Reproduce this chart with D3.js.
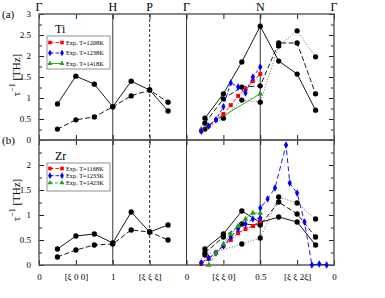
<!DOCTYPE html>
<html>
<head>
<meta charset="utf-8">
<script src="https://cdn.jsdelivr.net/npm/d3@7"></script>
<style>
body { margin: 0; background: #fff; }
svg { font-family: "Liberation Serif", "DejaVu Serif", serif; }
</style>
</head>
<body>
<svg id="chart" width="385" height="298"></svg>
<script>
// high symmetry points along the path (path coordinate: each branch = 1)
var pointLabels = ["Γ", "H", "P", "Γ", "N", "Γ"];
var pointPos = [0, 1, 1.5, 2, 3, 4];
var tickPos = [0, 0.5, 1, 1.5, 2, 2.5, 3, 3.5, 4];
var tickLabels = ["0", "[ξ 0 0]", "1", "[ξ ξ ξ]", "0", "[ξ ξ 0]", "0.5", "[ξ ξ 2ξ]", "0"];

// calculated points (black), path coordinate
var calcLeft = [0.25, 0.5, 0.75, 1, 1.25, 1.5, 1.75];
var calcRight = [2.25, 2.5, 2.75, 3, 3.25, 3.5, 3.75];

// Ti (a)
var tiSolidL = [0.86, 1.52, 1.33, 0.79, 1.40, 1.19, 0.69];
var tiDashL = [0.26, 0.48, 0.55, 0.79, 1.05, 1.19, 0.90];
var tiSolidR = [0.52, 1.10, 1.86, 2.71, 1.88, 1.57, 0.71];
var tiDashR = [0.40, 0.98, 1.26, 1.29, 2.31, 2.31, 1.10];
var tiDotR = [0.26, 0.52, 0.95, 0.90, 2.24, 2.60, 1.98];

// Ti experiments, xi along [xi xi 0]
var tiXi1208 = [0.1, 0.15, 0.2, 0.25, 0.3, 0.35, 0.4, 0.45, 0.5];
var ti1208 = [0.21, 0.33, 0.48, 0.62, 0.83, 1.05, 1.21, 1.40, 1.57];
var tiXi1238 = [0.1, 0.15, 0.2, 0.25, 0.3, 0.35, 0.4, 0.45, 0.5];
var ti1238 = [0.21, 0.33, 0.48, 0.79, 1.36, 1.26, 1.12, 1.50, 1.74];
var tiXi1418 = [0.1, 0.5];
var ti1418 = [0.26, 1.10];

// Zr (b)
var zrSolidL = [0.32, 0.58, 0.62, 0.44, 1.06, 0.66, 0.80];
var zrDashL = [0.16, 0.30, 0.40, 0.42, 0.70, 0.66, 0.50];
var zrSolidR = [0.32, 0.62, 1.08, 0.85, 0.96, 0.86, 0.40];
var zrDashR = [0.24, 0.56, 0.82, 0.80, 1.26, 1.02, 0.56];
var zrDotPos = [2.25, 2.75, 3, 3.25, 3.5, 3.75];
var zrDotR = [0.20, 0.42, 0.54, 1.36, 1.24, 0.92];

// Zr experiments
var zrXi1168 = [0.1, 0.15, 0.2, 0.25, 0.3, 0.35, 0.4, 0.45, 0.5];
var zr1168 = [0.02, 0.12, 0.25, 0.38, 0.50, 0.64, 0.72, 0.78, 0.88];
var zrXi1233a = [0.1, 0.15, 0.2, 0.25, 0.3, 0.35, 0.4, 0.45, 0.5];
var zr1233a = [0.05, 0.14, 0.24, 0.38, 0.56, 0.72, 0.82, 0.92, 0.94];
var zrXi1233b = [0.5, 0.45, 0.4, 0.325, 0.3, 0.25, 0.2, 0.15, 0.1, 0.05];  // along N -> Γ
var zr1233b = [1.14, 1.32, 1.54, 2.40, 1.64, 1.44, 0.86, 0.0, 0.02, 0.0];
var zrXi1423 = [0.15, 0.2, 0.25, 0.3, 0.35, 0.4, 0.45, 0.5];
var zr1423 = [0.0, 0.24, 0.42, 0.62, 0.78, 0.92, 1.04, 1.04];

var tiLegend = ["Exp. T=1208K", "Exp. T=1238K", "Exp. T=1418K"];
var zrLegend = ["Exp. T=1168K", "Exp. T=1233K", "Exp. T=1423K"];

function gammaN(xi) { return 2 + 2 * xi; }
function nGamma(xi) { return 4 - 2 * xi; }
function pts(xs, ys) { return xs.map(function (x, i) { return { s: x, v: ys[i] }; }); }

var svg = d3.select("#chart");
var left = 39, right = 334;
var x = d3.scaleLinear().domain([0, 4]).range([left, right]);

var panels = [
    { y: d3.scaleLinear().domain([0, 3]).range([140, 14]), label: "(a)", name: "Ti",
      yTicks: [0, 0.5, 1, 1.5, 2, 2.5, 3], legend: tiLegend, legTop: 36, legStep: 10.5, legH: 33, titleY: 75 },
    { y: d3.scaleLinear().domain([0, 2.5]).range([265, 140]), label: "(b)", name: "Zr",
      yTicks: [0, 0.5, 1, 1.5, 2], legend: zrLegend, legTop: 163, legStep: 7.2, legH: 28, titleY: 200 }
];

var styles = {
    solid: { c: "#000", mc: "#000", dash: null, m: d3.symbolCircle, size: 22 },
    dash: { c: "#000", mc: "#000", dash: "5,2.5", m: d3.symbolCircle, size: 22 },
    dot: { c: "#555", mc: "#000", dash: "1,1.8", m: d3.symbolCircle, size: 22 },
    red: { c: "#ff0000", mc: "#ff0000", dash: "3.5,2", m: d3.symbolSquare, size: 16 },
    blue: { c: "#0000ff", mc: "#0000ff", dash: "3.5,2", m: d3.symbolDiamond, size: 16 },
    blue2: { c: "#0000ff", mc: "#0000ff", dash: "5,3", m: d3.symbolDiamond, size: 16 },
    green: { c: "#1f9e1f", mc: "#1f9e1f", dash: null, m: d3.symbolTriangle, size: 14 },
    green2: { c: "#1f9e1f", mc: "#1f9e1f", dash: "3,2", m: d3.symbolTriangle, size: 14 }
};

var series = [
    { p: 0, st: "solid", d: pts(calcLeft, tiSolidL) },
    { p: 0, st: "dash", d: pts(calcLeft, tiDashL) },
    { p: 0, st: "dot", d: pts(calcRight, tiDotR) },
    { p: 0, st: "dash", d: pts(calcRight, tiDashR) },
    { p: 0, st: "solid", d: pts(calcRight, tiSolidR) },
    { p: 0, st: "green", d: pts(tiXi1418.map(gammaN), ti1418) },
    { p: 0, st: "red", d: pts(tiXi1208.map(gammaN), ti1208) },
    { p: 0, st: "blue", d: pts(tiXi1238.map(gammaN), ti1238) },
    { p: 1, st: "solid", d: pts(calcLeft, zrSolidL) },
    { p: 1, st: "dash", d: pts(calcLeft, zrDashL) },
    { p: 1, st: "dot", d: pts(zrDotPos, zrDotR) },
    { p: 1, st: "dash", d: pts(calcRight, zrDashR) },
    { p: 1, st: "solid", d: pts(calcRight, zrSolidR) },
    { p: 1, st: "red", d: pts(zrXi1168.map(gammaN), zr1168) },
    { p: 1, st: "blue2", d: pts(zrXi1233a.map(gammaN).concat(zrXi1233b.map(nGamma)), zr1233a.concat(zr1233b)) },
    { p: 1, st: "green2", d: pts(zrXi1423.map(gammaN), zr1423) }
];

panels.forEach(function (pn, pi) {
    var y = pn.y;
    var top = y.range()[1], bot = y.range()[0];
    var g = svg.append("g");

    // vertical lines at H, P, Γ, N
    [1, 1.5, 2, 3].forEach(function (s) {
        g.append("line")
            .attr("x1", x(s)).attr("x2", x(s))
            .attr("y1", top).attr("y2", bot)
            .attr("stroke", "#222").attr("stroke-width", 0.9)
            .attr("stroke-dasharray", s == 1.5 ? "3,2" : null);
    });

    // y ticks, inward on both sides
    var minor = d3.range(0.25, y.domain()[1], 0.5);
    g.append("g").attr("transform", "translate(" + left + ",0)")
        .call(d3.axisLeft(y).tickValues(pn.yTicks).tickSize(-5).tickPadding(8).tickFormat(d3.format("~g")));
    g.append("g").attr("transform", "translate(" + left + ",0)")
        .call(d3.axisLeft(y).tickValues(minor).tickSize(-3).tickFormat(""));
    g.append("g").attr("transform", "translate(" + right + ",0)")
        .call(d3.axisRight(y).tickValues(d3.range(0, y.domain()[1] + 0.01, 0.5)).tickSize(-5).tickFormat(""));
    g.append("g").attr("transform", "translate(" + right + ",0)")
        .call(d3.axisRight(y).tickValues(minor).tickSize(-3).tickFormat(""));

    // x ticks, inward top and bottom
    g.append("g").attr("transform", "translate(0," + bot + ")")
        .call(d3.axisBottom(x).tickValues(tickPos).tickSize(-5)
            .tickFormat(function (d, i) { return pi == 1 ? tickLabels[i] : ""; }).tickPadding(9));
    g.append("g").attr("transform", "translate(0," + top + ")")
        .call(d3.axisTop(x).tickValues(tickPos).tickSize(-5).tickFormat(""));

    g.selectAll(".domain").remove();
    g.selectAll(".tick line").attr("stroke", "#222");
    g.selectAll(".tick text").attr("font-family", "Liberation Serif, serif").attr("font-size", 9).attr("fill", "#000");

    // frame
    g.append("rect").attr("x", left).attr("y", top).attr("width", right - left).attr("height", bot - top)
        .attr("fill", "none").attr("stroke", "#555").attr("stroke-width", 1.4);

    // series
    var line = d3.line().x(function (d) { return x(d.s); }).y(function (d) { return y(d.v); });
    series.filter(function (s) { return s.p == pi; }).forEach(function (s) {
        var st = styles[s.st];
        g.append("path").attr("d", line(s.d))
            .attr("fill", "none").attr("stroke", st.c).attr("stroke-width", 0.9)
            .attr("stroke-dasharray", st.dash);
        g.selectAll(null).data(s.d).enter().append("path")
            .attr("d", d3.symbol().type(st.m).size(st.size))
            .attr("transform", function (d) { return "translate(" + x(d.s) + "," + y(d.v) + ")"; })
            .attr("fill", st.mc);
    });

    // legend
    var lx = 47, lw = 63;
    g.append("text").attr("x", 55).attr("y", pn.legTop - 3).attr("font-size", 12).text(pn.name);
    g.append("rect").attr("x", lx).attr("y", pn.legTop).attr("width", lw).attr("height", pn.legH)
        .attr("fill", "#fff").attr("stroke", "#777").attr("stroke-width", 0.8);
    var legStyles = pi == 0 ? ["red", "blue", "green"] : ["red", "blue", "green2"];
    pn.legend.forEach(function (t, i) {
        var st = styles[legStyles[i]];
        var ly = pn.legTop + (pi == 0 ? 6.5 : 5.5) + i * pn.legStep;
        g.append("line").attr("x1", lx + 3).attr("x2", lx + 15).attr("y1", ly).attr("y2", ly)
            .attr("stroke", st.c).attr("stroke-width", 0.9).attr("stroke-dasharray", st.dash);
        [lx + 3, lx + 15].forEach(function (mx) {
            g.append("path").attr("d", d3.symbol().type(st.m).size(st.size * 0.8))
                .attr("transform", "translate(" + mx + "," + ly + ")").attr("fill", st.mc);
        });
        g.append("text").attr("x", lx + 19).attr("y", ly + 2.2).attr("font-size", 6.3).text(t);
    });

    // panel label
    g.append("text").attr("x", 2).attr("y", top + 4).attr("font-size", 11).text(pn.label);

    // y title
    var tt = g.append("text").attr("transform", "translate(20," + pn.titleY + ") rotate(-90)")
        .attr("text-anchor", "middle").attr("font-size", 11);
    tt.append("tspan").text("τ");
    tt.append("tspan").attr("dy", -5).attr("font-size", 8).text("−1");
    tt.append("tspan").attr("dy", 5).text(" [THz]");
});

// high symmetry labels at top
svg.selectAll(".hs").data(pointPos).enter().append("text")
    .attr("x", function (d) { return x(d); }).attr("y", 11)
    .attr("text-anchor", "middle").attr("font-size", 12)
    .text(function (d, i) { return pointLabels[i]; });
</script>
</body>
</html>
